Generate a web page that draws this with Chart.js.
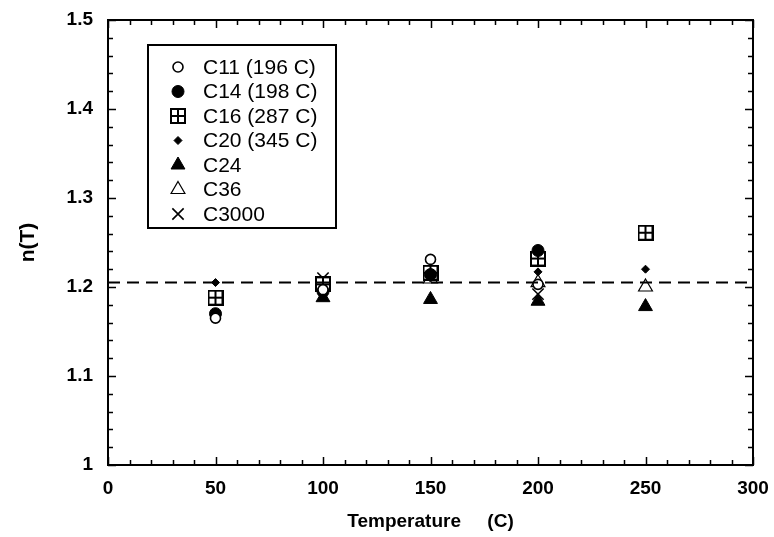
<!DOCTYPE html>
<html>
<head>
<meta charset="utf-8">
<script src="https://cdn.jsdelivr.net/npm/chart.js@4/dist/chart.umd.min.js"></script>
<style>
  html, body { margin: 0; padding: 0; background: #fff; }
  #wrap { width: 774px; height: 537px; }
</style>
</head>
<body>
<div id="wrap"><canvas id="nChart" width="774" height="537"></canvas></div>
<script>
// temperatures (C) and n(T) values
const temps = [50, 100, 150, 200, 250];
const c11 = [1.165, 1.197, 1.231, 1.203, null];
const c14 = [1.170, 1.195, 1.214, 1.241, null];
const c16 = [1.188, 1.203, 1.216, 1.232, 1.261];
const c20 = [1.205, 1.205, 1.210, 1.217, 1.220];
const c24 = [null, 1.188, 1.186, 1.184, 1.178];
const c36 = [null, 1.200, 1.209, 1.205, 1.200];
const c3000 = [null, 1.210, 1.215, 1.192, null];
const meanLine = 1.205;

const xTicks = [0, 50, 100, 150, 200, 250, 300];
const yTicks = [1, 1.1, 1.2, 1.3, 1.4, 1.5];

const FONT = '"Liberation Sans", Arial, sans-serif';

function pts(arr) {
    return temps.map((t, i) => ({ x: t, y: arr[i] })).filter(p => p.y !== null);
}

// square with a cross inside, for C16
const boxPlus = document.createElement('canvas');
boxPlus.width = 16; boxPlus.height = 16;
(function() {
    const c = boxPlus.getContext('2d');
    c.fillStyle = '#fff';
    c.fillRect(0, 0, 16, 16);
    c.fillStyle = '#000';
    c.fillRect(0, 0, 16, 2);
    c.fillRect(0, 14, 16, 2);
    c.fillRect(0, 0, 2, 16);
    c.fillRect(14, 0, 2, 16);
    c.fillRect(7, 0, 2, 16);
    c.fillRect(0, 7, 16, 2);
})();

const series = [
    { label: 'C11 (196 C)', data: pts(c11), pointStyle: 'circle', pointRadius: 5, pointBackgroundColor: '#fff', pointBorderWidth: 1.6 },
    { label: 'C14 (198 C)', data: pts(c14), pointStyle: 'circle', pointRadius: 6, pointBackgroundColor: '#000', pointBorderWidth: 1 },
    { label: 'C16 (287 C)', data: pts(c16), pointStyle: boxPlus, pointRadius: 8, pointBackgroundColor: '#fff', pointBorderWidth: 1.6 },
    { label: 'C20 (345 C)', data: pts(c20), pointStyle: 'rectRot', pointRadius: 4, pointBackgroundColor: '#000', pointBorderWidth: 1 },
    { label: 'C24', data: pts(c24), pointStyle: 'triangle', pointRadius: 8, pointBackgroundColor: '#000', pointBorderWidth: 1 },
    { label: 'C36', data: pts(c36), pointStyle: 'triangle', pointRadius: 8, pointBackgroundColor: '#fff', pointBorderWidth: 1.2 },
    { label: 'C3000', data: pts(c3000), pointStyle: 'crossRot', pointRadius: 8, pointBackgroundColor: '#fff', pointBorderWidth: 1.6 }
];

const datasets = series.map(s => Object.assign({
    showLine: false,
    borderColor: '#000',
    pointBorderColor: '#000',
    pointHoverRadius: s.pointRadius
}, s));

datasets.unshift({
    label: 'mean',
    data: [{ x: 0, y: meanLine }, { x: 300, y: meanLine }],
    showLine: true,
    borderColor: '#000',
    borderWidth: 2,
    borderDash: [12, 7],
    pointRadius: 0,
    pointHoverRadius: 0
});

// frame, inside ticks on four sides and the legend box
const framePlugin = {
    id: 'frame',
    afterDraw(chart) {
        const ctx = chart.ctx;
        const a = chart.chartArea;
        const xs = chart.scales.x, ys = chart.scales.y;
        ctx.save();
        ctx.strokeStyle = '#000';
        ctx.lineWidth = 2;
        ctx.strokeRect(a.left, a.top, a.right - a.left, a.bottom - a.top);

        ctx.lineWidth = 1.5;
        ctx.beginPath();
        for (let v = 0; v <= 300; v += 10) {
            const px = Math.round(xs.getPixelForValue(v)) + 0.5;
            const len = v % 50 === 0 ? 8 : 5;
            ctx.moveTo(px, a.bottom); ctx.lineTo(px, a.bottom - len);
            ctx.moveTo(px, a.top); ctx.lineTo(px, a.top + len);
        }
        for (let i = 0; i <= 25; i++) {
            const v = 1 + i * 0.02;
            const py = Math.round(ys.getPixelForValue(v)) + 0.5;
            const len = i % 5 === 0 ? 8 : 5;
            ctx.moveTo(a.left, py); ctx.lineTo(a.left + len, py);
            ctx.moveTo(a.right, py); ctx.lineTo(a.right - len, py);
        }
        ctx.stroke();

        // legend
        const bx = 148, by = 45, bw = 188, bh = 183;
        ctx.fillStyle = '#fff';
        ctx.fillRect(bx, by, bw, bh);
        ctx.strokeStyle = '#000';
        ctx.lineWidth = 2;
        ctx.strokeRect(bx, by, bw, bh);
        ctx.font = '21px ' + FONT;
        ctx.textBaseline = 'middle';
        ctx.textAlign = 'left';
        series.forEach((s, i) => {
            const ly = by + 22 + i * 24.5;
            ctx.fillStyle = s.pointBackgroundColor;
            ctx.strokeStyle = '#000';
            ctx.lineWidth = s.pointBorderWidth;
            Chart.helpers.drawPoint(ctx, {
                pointStyle: s.pointStyle,
                radius: s.pointRadius,
                borderWidth: s.pointBorderWidth,
                rotation: 0
            }, 178, ly);
            ctx.fillStyle = '#000';
            ctx.fillText(s.label, 203, ly + 1);
        });
        ctx.restore();
    }
};

const ctx = document.getElementById('nChart').getContext('2d');
window.nChart = new Chart(ctx, {
    type: 'scatter',
    data: { datasets: datasets },
    plugins: [framePlugin],
    options: {
        responsive: false,
        animation: false,
        layout: { padding: { top: 20, right: 21, left: 0, bottom: 0 } },
        plugins: {
            legend: { display: false },
            tooltip: { enabled: false }
        },
        elements: { point: { borderColor: '#000' } },
        scales: {
            x: {
                type: 'linear',
                min: 0,
                max: 300,
                afterBuildTicks: s => { s.ticks = xTicks.map(v => ({ value: v })); },
                afterFit: s => { s.height = 72; s.paddingLeft = 0; s.paddingRight = 0; },
                grid: { display: false, drawTicks: false },
                border: { display: false },
                ticks: {
                    color: '#000',
                    padding: 12,
                    maxRotation: 0,
                    font: { family: FONT, size: 19, weight: 'bold' }
                },
                title: {
                    display: true,
                    text: 'Temperature     (C)',
                    color: '#000',
                    padding: { top: 8 },
                    font: { family: FONT, size: 19, weight: 'bold' }
                }
            },
            y: {
                type: 'linear',
                min: 1,
                max: 1.5,
                afterBuildTicks: s => { s.ticks = yTicks.map(v => ({ value: v })); },
                afterFit: s => { s.width = 108; s.paddingTop = 0; s.paddingBottom = 0; },
                grid: { display: false, drawTicks: false },
                border: { display: false },
                ticks: {
                    color: '#000',
                    padding: 15,
                    callback: v => String(Number(v.toFixed(1))),
                    font: { family: FONT, size: 19, weight: 'bold' }
                },
                title: {
                    display: true,
                    text: 'n(T)',
                    color: '#000',
                    padding: { top: 16, bottom: 0 },
                    font: { family: FONT, size: 21, weight: 'bold' }
                }
            }
        }
    }
});
</script>
</body>
</html>
